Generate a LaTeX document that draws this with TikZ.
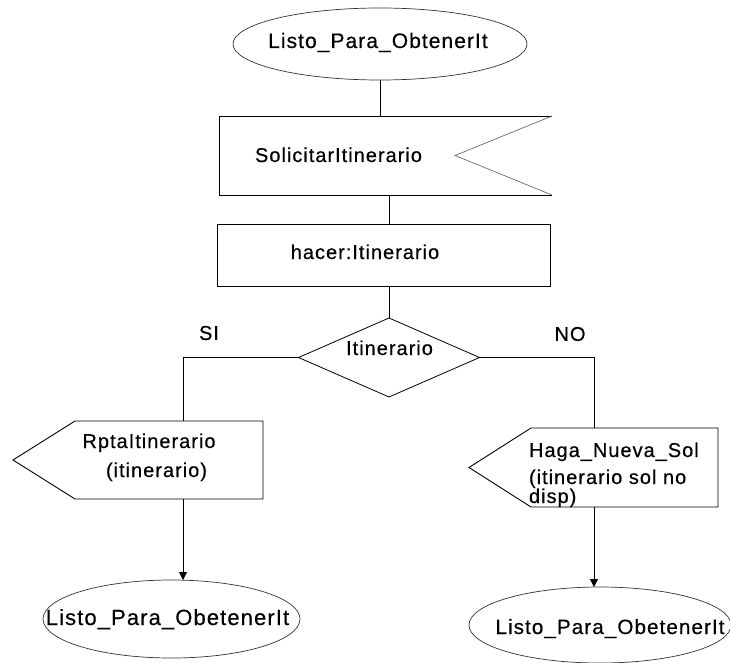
\documentclass[tikz,border=0pt]{standalone}
\usepackage{fontspec}
\setmainfont{Liberation Sans}
\newfontfamily\spacedsans{Liberation Sans}[LetterSpace=5,FakeBold=0.4]
\usetikzlibrary{shapes.geometric,arrows.meta,calc}
\begin{document}
\begin{tikzpicture}[x=1pt,y=-1pt,
  edge/.style={draw=black,line width=0.8pt},
  flow/.style={edge,-{Triangle[width=8pt,length=8pt]}},
  shapeline/.style={draw=black,line width=0.9pt},
  notchline/.style={draw=black!65,line width=0.6pt},
  frame/.style={rectangle,inner sep=0pt,outer sep=0pt},
  state/.style={ellipse,draw=black!80,line width=0.7pt,inner sep=0pt,outer sep=0pt},
  txt/.style={inner sep=0pt,outer sep=0pt,font=\spacedsans\fontsize{20}{24}\selectfont},
]
\fill[white] (0,0) rectangle (730,663);
\useasboundingbox (0,0) rectangle (730,663);

% initial state
\node[state,minimum width=294pt,minimum height=72pt] (start) at (380,44) {};
\node[txt,anchor=base,font=\spacedsans\fontsize{21}{25}\selectfont] (startT) at (378,48) {Listo\_Para\_ObtenerIt};

% send signal: SolicitarItinerario
\node[frame,minimum width=333pt,minimum height=79pt] (sol) at (385.5,155.5) {};
\draw[shapeline] (sol.north east) -- (sol.north west) -- (sol.south west) -- (sol.south east);
\draw[notchline] (sol.north east) -- ($(sol.east)+(-97,0)$) -- (sol.south east);
\node[txt,anchor=base] (solT) at (338.5,162) {SolicitarItinerario};

% task box
\node[frame,shapeline,minimum width=333pt,minimum height=62pt] (hac) at (383.5,255) {};
\node[txt,anchor=base] (hacT) at (365,259) {hacer:Itinerario};

% decision
\node[diamond,draw=black,line width=0.8pt,minimum width=181pt,minimum height=79pt,inner sep=0pt,outer sep=0pt] (dec) at (389,357.5) {};
\node[txt,anchor=base] (decT) at (389.5,355) {Itinerario};

\node[txt] (si) at (209,333) {SI};
\node[txt] (no) at (570,334) {NO};

\coordinate (siX) at (183,357);
\coordinate (noX) at (594,357);

% receive signal: RptaItinerario
\node[frame,minimum width=188pt,minimum height=78pt] (rp) at (169,460) {};
\draw[shapeline] (rp.north west) -- (rp.north east) -- (rp.south east) -- (rp.south west) -- ($(rp.west)+(-62,0)$) -- cycle;
\node[txt,anchor=base] (rpT1) at (149,448) {RptaItinerario};
\node[txt,anchor=base] (rpT2) at (156.5,477) {(itinerario)};

% receive signal: Haga_Nueva_Sol
\node[frame,minimum width=187pt,minimum height=79pt] (hn) at (624.5,467.5) {};
\draw[shapeline] (hn.north west) -- (hn.north east) -- (hn.south east) -- (hn.south west) -- ($(hn.west)+(-62,0)$) -- cycle;
\node[txt,anchor=base west] (hnT1) at (529,457) {Haga\_Nueva\_Sol};
\node[txt,anchor=base west] (hnT2) at (529,484) {(itinerario sol no};
\node[txt,anchor=base west] (hnT3) at (529,503) {disp)};

% final states
\node[state,minimum width=257pt,minimum height=78pt] (e2) at (171.5,619) {};
\node[txt,anchor=base,font=\spacedsans\fontsize{22}{26}\selectfont] (e2T) at (167.5,625) {Listo\_Para\_ObetenerIt};
\node[state,minimum width=262pt,minimum height=76pt] (e3) at (600,625) {};
\node[txt,anchor=base,font=\spacedsans\fontsize{20.7}{25}\selectfont] (e3T) at (610,634) {Listo\_Para\_ObetenerIt};

% connectors
\draw[edge] (start.south) -- (start.south |- sol.north);
\draw[edge] (sol.south -| dec.north) -- (hac.north -| dec.north);
\draw[edge] (hac.south -| dec.north) -- (dec.north);
\draw[edge] (dec.west) -| (siX |- rp.north);
\draw[edge] (dec.east) -| (noX |- hn.north);
\draw[flow] (siX |- rp.south) -- (siX |- e2.north);
\draw[flow] (noX |- hn.south) -- (noX |- e3.north);
\end{tikzpicture}
\end{document}
